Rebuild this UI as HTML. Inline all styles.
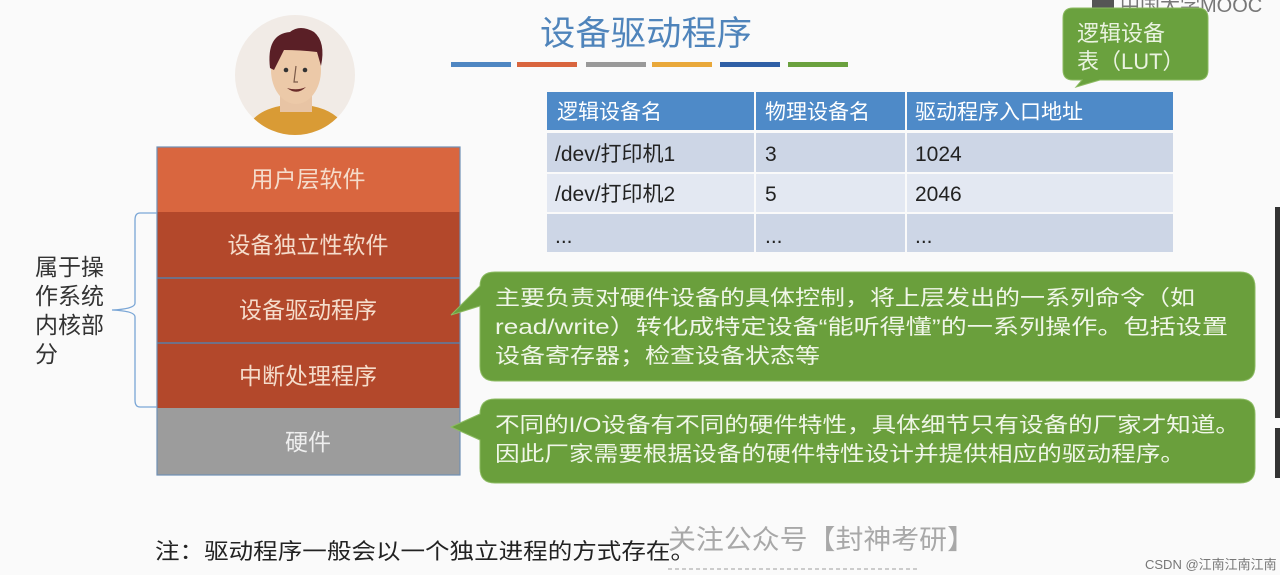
<!DOCTYPE html>
<html><head><meta charset="utf-8"><style>
html,body{margin:0;padding:0;background:#fafafa;width:1280px;height:575px;overflow:hidden}
svg{display:block}
text{font-family:"Liberation Sans","Noto Sans CJK SC",sans-serif}
</style></head><body>
<svg width="1280" height="575" viewBox="0 0 1280 575" xmlns="http://www.w3.org/2000/svg">
<rect width="1280" height="575" fill="#fafafa"/>
<text x="540" y="45" font-size="34" fill="#4f84bb" textLength="212" lengthAdjust="spacingAndGlyphs">设备驱动程序</text>
<rect x="451" y="62" width="60" height="5" fill="#4e86c2"/>
<rect x="517" y="62" width="60" height="5" fill="#d9653e"/>
<rect x="586" y="62" width="60" height="5" fill="#999"/>
<rect x="652" y="62" width="60" height="5" fill="#e9a83a"/>
<rect x="720" y="62" width="60" height="5" fill="#2f5fa6"/>
<rect x="788" y="62" width="60" height="5" fill="#6aa13e"/>
<rect x="1092" y="0" width="22" height="12" fill="#555"/>
<text x="1120" y="12" font-size="20" fill="#777">中国大学MOOC</text>
<ellipse cx="295" cy="75" rx="60" ry="60" fill="#f1ebe6"/>
<clipPath id="c"><ellipse cx="295" cy="75" rx="60" ry="60"/></clipPath>
<g clip-path="url(#c)">
<path d="M245 135 Q250 112 280 106 L312 106 Q342 112 348 135 Z" fill="#d99b35"/>
<rect x="280" y="90" width="32" height="22" fill="#e8c4a4"/>
<ellipse cx="296" cy="70" rx="25" ry="34" fill="#ecc9a8"/>
<path d="M270 68 Q266 34 290 32 Q300 24 314 32 Q326 42 321 66 L317 52 Q300 50 284 50 L274 70 Z" fill="#5a1f26"/>
<circle cx="286" cy="70" r="2.3" fill="#333"/><circle cx="305" cy="70" r="2.3" fill="#333"/>
<path d="M296 66 L294 82 L298 82" fill="none" stroke="#7a5a48" stroke-width="1.2"/>
<path d="M287 88 Q297 96 306 87 Q297 91 287 88Z" fill="#6b2d2a"/>
</g>
<rect x="157" y="147" width="303" height="65" fill="#d9663f"/>
<rect x="157" y="212" width="303" height="196" fill="#b3482b"/>
<rect x="157" y="408" width="303" height="67" fill="#9c9c9c"/>
<line x1="157" y1="278" x2="460" y2="278" stroke="#5b7ea6" stroke-width="1.5"/>
<line x1="157" y1="343" x2="460" y2="343" stroke="#5b7ea6" stroke-width="1.5"/>
<rect x="157" y="147" width="303" height="328" fill="none" stroke="#6f8fb5" stroke-width="1.2"/>
<g font-size="23" fill="#f5dccb" text-anchor="middle">
<text x="308" y="187">用户层软件</text>
<text x="308" y="253">设备独立性软件</text>
<text x="308" y="318">设备驱动程序</text>
<text x="308" y="384">中断处理程序</text>
<text x="308" y="450" fill="#eee">硬件</text>
</g>
<path d="M157 213 L140 213 Q135 213 135 220 L135 303 Q135 309 112 310 Q135 311 135 317 L135 400 Q135 407 140 407 L157 407" fill="none" stroke="#7aa6d6" stroke-width="1.3"/>
<g font-size="23" fill="#333">
<text x="35" y="275">属于操</text>
<text x="35" y="304">作系统</text>
<text x="35" y="333">内核部</text>
<text x="35" y="362">分</text>
</g>
<rect x="547" y="92" width="626" height="38" fill="#4e8ac8"/>
<rect x="547" y="133" width="626" height="39" fill="#cdd6e6"/>
<rect x="547" y="174" width="626" height="38" fill="#e3e8f2"/>
<rect x="547" y="214" width="626" height="38" fill="#cdd6e6"/>
<rect x="754" y="92" width="2" height="160" fill="#fafafa"/>
<rect x="905" y="92" width="2" height="160" fill="#fafafa"/>
<g font-size="21" fill="#fff">
<text x="557" y="119">逻辑设备名</text>
<text x="765" y="119">物理设备名</text>
<text x="915" y="119">驱动程序入口地址</text>
</g>
<g font-size="21" fill="#222">
<text x="555" y="161">/dev/打印机1</text>
<text x="765" y="161">3</text>
<text x="915" y="161">1024</text>
<text x="555" y="201">/dev/打印机2</text>
<text x="765" y="201">5</text>
<text x="915" y="201">2046</text>
<text x="555" y="243">...</text>
<text x="765" y="243">...</text>
<text x="915" y="243">...</text>
</g>
<path d="M1073 8 H1198 Q1208 8 1208 18 V70 Q1208 80 1198 80 H1100 L1076 87 L1082 80 H1073 Q1063 80 1063 70 V18 Q1063 8 1073 8Z" fill="#6aa13e" stroke="#8cbb62"/>
<g font-size="22" fill="#eaf3e0">
<text x="1077" y="41">逻辑设备</text>
<text x="1077" y="69">表（LUT）</text>
</g>
<path d="M495 272 H1240 Q1255 272 1255 287 V366 Q1255 381 1240 381 H495 Q480 381 480 366 V306 L451 315 L480 286 Q480 272 495 272Z" fill="#6a9f3c" stroke="#8cbb62"/>
<g font-size="21" fill="#f0f6e8">
<text x="495" y="305" textLength="700" lengthAdjust="spacingAndGlyphs">主要负责对硬件设备的具体控制，将上层发出的一系列命令（如</text>
<text x="495" y="334" textLength="733" lengthAdjust="spacingAndGlyphs">read/write）转化成特定设备“能听得懂”的一系列操作。包括设置</text>
<text x="495" y="363" textLength="325" lengthAdjust="spacingAndGlyphs">设备寄存器；检查设备状态等</text>
</g>
<path d="M495 399 H1240 Q1255 399 1255 414 V468 Q1255 483 1240 483 H495 Q480 483 480 468 V440 L451 427 L480 414 Q480 399 495 399Z" fill="#6a9f3c" stroke="#8cbb62"/>
<g font-size="21" fill="#f0f6e8">
<text x="495" y="432" textLength="745" lengthAdjust="spacingAndGlyphs">不同的I/O设备有不同的硬件特性，具体细节只有设备的厂家才知道。</text>
<text x="495" y="461" textLength="690" lengthAdjust="spacingAndGlyphs">因此厂家需要根据设备的硬件特性设计并提供相应的驱动程序。</text>
</g>
<rect x="1275" y="207" width="5" height="211" fill="#333"/>
<rect x="1275" y="428" width="5" height="50" fill="#333"/>
<text x="155" y="559" font-size="22" fill="#222" textLength="540" lengthAdjust="spacingAndGlyphs">注：驱动程序一般会以一个独立进程的方式存在。</text>
<text x="668" y="549" font-size="27" fill="#9a9a9a" opacity="0.85" textLength="307" lengthAdjust="spacingAndGlyphs">关注公众号【封神考研】</text>
<line x1="668" y1="569" x2="920" y2="569" stroke="#ccc" stroke-width="2" stroke-dasharray="4 3"/>
<text x="1145" y="569" font-size="13" fill="#777">CSDN @江南江南江南丶</text>
</svg>
</body></html>
